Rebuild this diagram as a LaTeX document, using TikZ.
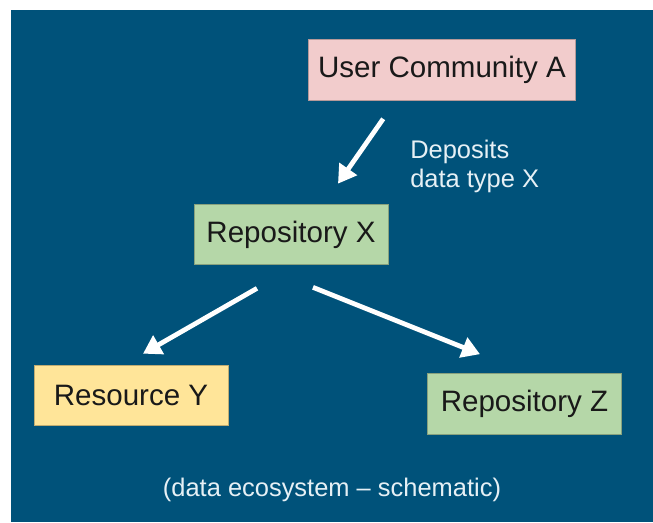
\documentclass[tikz,border=0pt]{standalone}
\usepackage{fontspec}
\setmainfont{Liberation Sans}
\usepackage{xcolor}
\usetikzlibrary{arrows.meta,positioning}

\definecolor{bgblue}{HTML}{00527A}
\definecolor{commpink}{HTML}{F2CCCC}
\definecolor{repogreen}{HTML}{B5D7A8}
\definecolor{resyellow}{HTML}{FFE599}
\definecolor{lbltext}{HTML}{E6F0F5}

\begin{document}
\begin{tikzpicture}[
  x=0.025cm, y=-0.025cm,
  box/.style  = {rectangle, draw=#1!75!black, fill=#1, line width=0.6pt,
                 minimum width=4.85cm, minimum height=1.52cm,
                 inner xsep=0.2375cm, text=black!90,
                 font=\fontsize{21}{25}\selectfont},
  arr/.style  = {-{Triangle[length=0.45cm,width=0.52cm]}, line width=3.4pt,
                 draw=white},
  lbl/.style  = {inner sep=0pt, text=lbltext, align=left,
                 font=\fontsize{18.1}{20.6}\selectfont}
]

%%% ---- BACKGROUND ----
\useasboundingbox (0,0) rectangle (653,522);
\fill[bgblue] (11,10) rectangle (653,522);

%%% ---- BOXES ----
\node[box=commpink]  (ua)   at (442,70)    {User Community A};
\node[box=repogreen] (repx) at (291,234.5) {Repository X};
\node[box=resyellow] (resy) at (131,395.5) {Resource Y};
\node[box=repogreen] (repz) at (524.5,404) {Repository Z};

%%% ---- ARROWS ----
\draw[arr] ([shift={(75,18)}]ua.south west) -- ([shift={(47,-20)}]repx.north);
\draw[arr] ([shift={(-34,23)}]repx.south)   -- ([shift={(12,-11)}]resy.north);
\draw[arr] ([shift={(22,22)}]repx.south)    -- ([shift={(-44.5,-19)}]repz.north);

%%% ---- LABELS ----
\node[lbl, anchor=north west] (dep) at (410,140) {Deposits\\data type X};
\node[lbl] (cap) at (332,490) {(data ecosystem -- schematic)};
\end{tikzpicture}
\end{document}
